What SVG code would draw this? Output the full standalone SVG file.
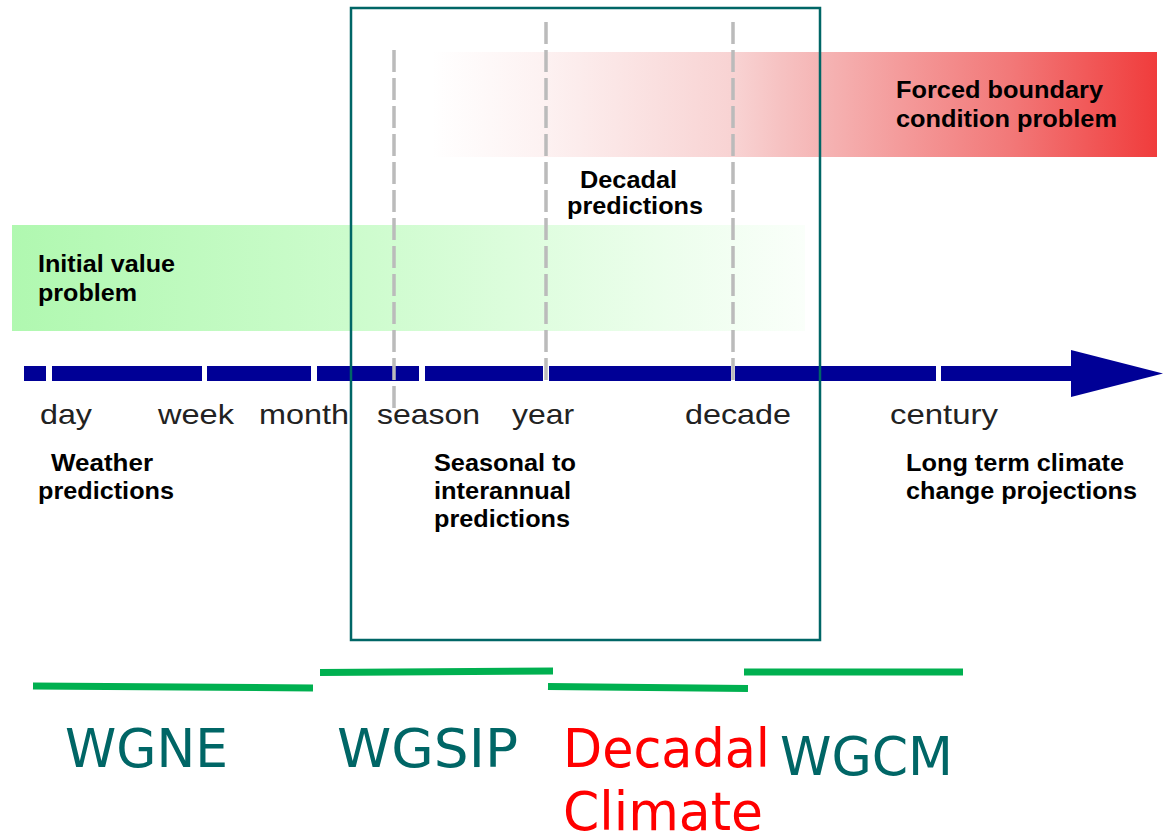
<svg xmlns="http://www.w3.org/2000/svg" width="1163" height="834" viewBox="0 0 1163 834">
<defs>
<linearGradient id="gGreen" x1="0" y1="0" x2="1" y2="0">
<stop offset="0" stop-color="#b0f8b0"/>
<stop offset="0.45" stop-color="#cefcce"/>
<stop offset="1" stop-color="#fafffa"/>
</linearGradient>
<linearGradient id="gRed" x1="0" y1="0" x2="1" y2="0">
<stop offset="0" stop-color="#ffffff"/>
<stop offset="0.15" stop-color="#fdf2f2"/>
<stop offset="0.42" stop-color="#f8d2d2"/>
<stop offset="0.48" stop-color="#f6c2c2"/>
<stop offset="0.65" stop-color="#f49a9a"/>
<stop offset="0.8" stop-color="#f27878"/>
<stop offset="1" stop-color="#f03c3c"/>
</linearGradient>
<style>
.b{font-family:"Liberation Sans",Arial,sans-serif;font-weight:bold;font-size:23px;fill:#000}
.t{font-family:"Liberation Sans",Arial,sans-serif;font-size:28px;fill:#222}
.wg{font-family:"DejaVu Sans",Verdana,sans-serif;font-size:54px;fill:#006666}
.dc{font-family:"DejaVu Sans",Verdana,sans-serif;font-size:54px;fill:#ff0000}
.seg{fill:#000096}
.dash{stroke:#bbbbbb;stroke-width:3.5;stroke-dasharray:22 6;fill:none}
.gl{stroke:#00b050;stroke-width:7;fill:none}
</style>
</defs>
<rect width="1163" height="834" fill="#ffffff"/>

<g id="forced-boundary">
<rect x="432" y="52" width="725" height="105" fill="url(#gRed)"/>
<text class="b" x="896" y="98" textLength="207" lengthAdjust="spacingAndGlyphs">Forced boundary</text>
<text class="b" x="896" y="127" textLength="221" lengthAdjust="spacingAndGlyphs">condition problem</text>
</g>

<g id="initial-value">
<rect x="12" y="225" width="793" height="106" fill="url(#gGreen)"/>
<text class="b" x="38" y="272" textLength="137" lengthAdjust="spacingAndGlyphs">Initial value</text>
<text class="b" x="38" y="301" textLength="99" lengthAdjust="spacingAndGlyphs">problem</text>
</g>

<g id="decadal-predictions">
<text class="b" x="580" y="188" textLength="97" lengthAdjust="spacingAndGlyphs">Decadal</text>
<text class="b" x="567" y="214" textLength="136" lengthAdjust="spacingAndGlyphs">predictions</text>
</g>

<g id="timeline">
<rect class="seg" x="24" y="366" width="22" height="15"/>
<rect class="seg" x="52" y="366" width="150" height="15"/>
<rect class="seg" x="207" y="366" width="104" height="15"/>
<rect class="seg" x="317" y="366" width="102" height="15"/>
<rect class="seg" x="425" y="366" width="118" height="15"/>
<rect class="seg" x="549" y="366" width="182" height="15"/>
<rect class="seg" x="735" y="366" width="201" height="15"/>
<rect class="seg" x="941" y="366" width="132" height="15"/>
<polygon class="seg" points="1071,350 1163,373.5 1071,397"/>
</g>

<g id="dashed-markers">
<line class="dash" x1="394" y1="50" x2="394" y2="410"/>
<line class="dash" x1="546" y1="22" x2="546" y2="386"/>
<line class="dash" x1="733" y1="22" x2="733" y2="386"/>
</g>

<g id="timeline-labels">
<text class="t" x="40" y="424" textLength="52" lengthAdjust="spacingAndGlyphs">day</text>
<text class="t" x="158" y="424" textLength="76" lengthAdjust="spacingAndGlyphs">week</text>
<text class="t" x="259" y="424" textLength="90" lengthAdjust="spacingAndGlyphs">month</text>
<text class="t" x="377" y="424" textLength="103" lengthAdjust="spacingAndGlyphs">season</text>
<text class="t" x="512" y="424" textLength="62" lengthAdjust="spacingAndGlyphs">year</text>
<text class="t" x="685" y="424" textLength="106" lengthAdjust="spacingAndGlyphs">decade</text>
<text class="t" x="890" y="424" textLength="108" lengthAdjust="spacingAndGlyphs">century</text>
</g>

<g id="weather-predictions">
<text class="b" x="51" y="471" textLength="102" lengthAdjust="spacingAndGlyphs">Weather</text>
<text class="b" x="38" y="499" textLength="136" lengthAdjust="spacingAndGlyphs">predictions</text>
</g>

<g id="seasonal-predictions">
<text class="b" x="434" y="471" textLength="142" lengthAdjust="spacingAndGlyphs">Seasonal to</text>
<text class="b" x="434" y="499" textLength="137" lengthAdjust="spacingAndGlyphs">interannual</text>
<text class="b" x="434" y="527" textLength="136" lengthAdjust="spacingAndGlyphs">predictions</text>
</g>

<g id="long-term">
<text class="b" x="906" y="471" textLength="218" lengthAdjust="spacingAndGlyphs">Long term climate</text>
<text class="b" x="906" y="499" textLength="231" lengthAdjust="spacingAndGlyphs">change projections</text>
</g>

<g id="focus-box">
<rect x="351" y="8" width="469" height="632" fill="none" stroke="#006666" stroke-width="2.5"/>
</g>

<g id="connectors">
<line class="gl" x1="33" y1="686" x2="313" y2="688"/>
<line class="gl" x1="320" y1="672.5" x2="553" y2="671"/>
<line class="gl" x1="548" y1="686.5" x2="748" y2="688.5"/>
<line class="gl" x1="744" y1="672" x2="963" y2="672"/>
</g>

<g id="wgne"><text class="wg" x="65" y="767" textLength="163" lengthAdjust="spacingAndGlyphs">WGNE</text></g>
<g id="wgsip"><text class="wg" x="337" y="767" textLength="181" lengthAdjust="spacingAndGlyphs">WGSIP</text></g>
<g id="decadal-climate">
<text class="dc" x="563" y="767" textLength="207" lengthAdjust="spacingAndGlyphs">Decadal</text>
<text class="dc" x="563" y="830" textLength="200" lengthAdjust="spacingAndGlyphs">Climate</text>
</g>
<g id="wgcm"><text class="wg" x="780" y="775" textLength="173" lengthAdjust="spacingAndGlyphs">WGCM</text></g>
</svg>
